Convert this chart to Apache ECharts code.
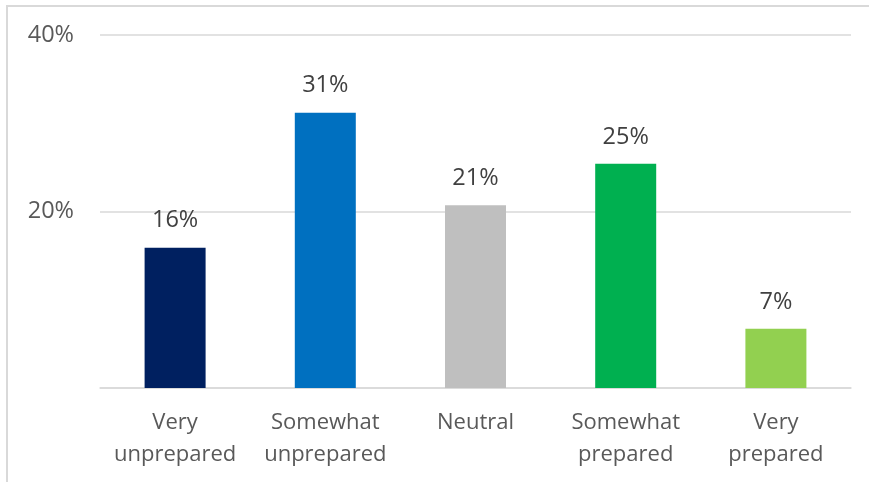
<!DOCTYPE html>
<html>
<head>
<meta charset="utf-8">
<script src="https://cdn.jsdelivr.net/npm/echarts@6/dist/echarts.min.js"></script>
<style>
html,body{margin:0;padding:0;background:#fff;overflow:hidden;}
#frame{position:absolute;left:6px;top:5px;width:900px;height:600px;border:2px solid #d9d9d9;box-sizing:border-box;}
#chart{position:absolute;left:0;top:0;width:869px;height:482px;}
</style>
</head>
<body>
<div id="frame"></div>
<div id="chart"></div>
<script>
const categories = ['Very\nunprepared', 'Somewhat\nunprepared', 'Neutral', 'Somewhat\nprepared', 'Very\nprepared'];
const values = [15.9, 31.2, 20.7, 25.4, 6.7];
const barColors = ['#002060', '#0070C0', '#BFBFBF', '#00B050', '#92D050'];
const yTicks = [0, 20, 40];

const chart = echarts.init(document.getElementById('chart'), null, {renderer: 'canvas'});
const font = '"Open Sans", "Noto Sans", sans-serif';
chart.setOption({
  animation: false,
  grid: {left: 100, right: 18, top: 35, bottom: 94, containLabel: false},
  xAxis: {
    type: 'category',
    data: categories,
    axisLine: {show: true, lineStyle: {color: '#d9d9d9', width: 1.5}},
    axisTick: {show: false},
    axisLabel: {color: '#595959', fontFamily: font, fontSize: 22, lineHeight: 32, margin: 19, interval: 0}
  },
  yAxis: {
    type: 'value',
    min: yTicks[0],
    max: yTicks[yTicks.length - 1],
    interval: 20,
    axisLine: {show: false},
    axisTick: {show: false},
    splitLine: {lineStyle: {color: '#d9d9d9', width: 1.5}},
    axisLabel: {
      color: '#595959', fontFamily: font, fontSize: 23.5, margin: 26,
      formatter: v => (v === 0 ? '' : v + '%')
    }
  },
  series: [{
    type: 'bar',
    barWidth: 61,
    data: values.map((v, i) => ({value: v, itemStyle: {color: barColors[i]}})),
    label: {
      show: true, position: 'top', distance: 15,
      color: '#404040', fontFamily: font, fontSize: 23.5,
      formatter: p => Math.round(p.value) + '%'
    }
  }]
});
</script>
</body>
</html>
